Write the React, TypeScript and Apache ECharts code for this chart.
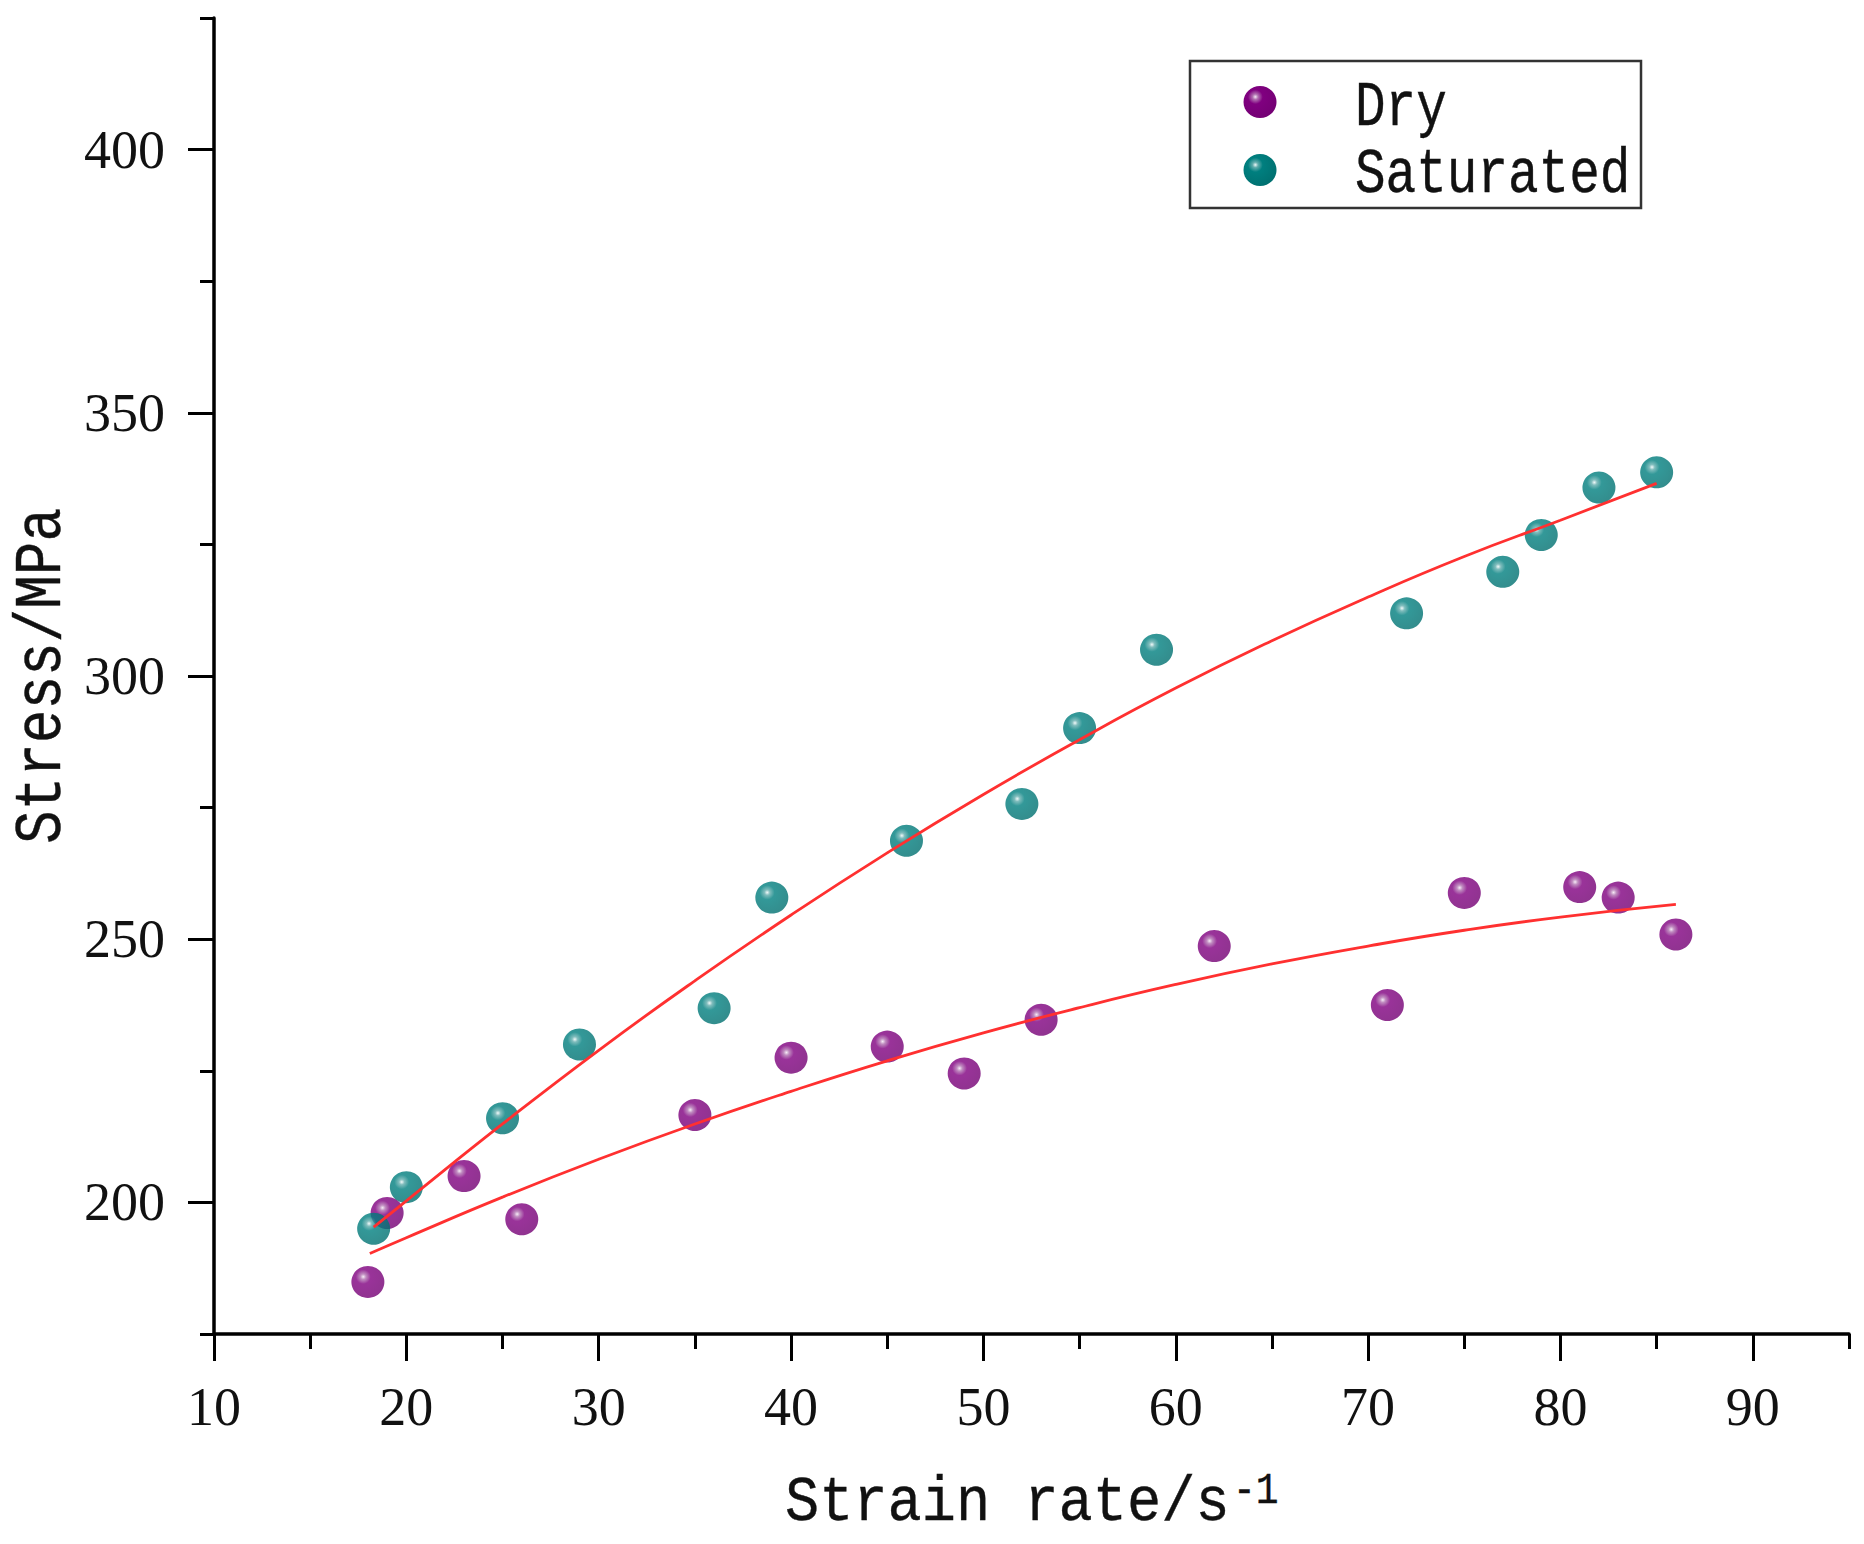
import React, { useEffect, useRef } from "react";
import * as echarts from "echarts";

// Measured points (strain rate in s^-1, stress in MPa)
const dryStrainRate = [18, 19, 23, 26, 35, 40, 45, 49, 53, 62, 71, 75, 81, 83, 86];
const dryStress = [184.9, 198.0, 205.0, 196.8, 216.6, 227.5, 229.6, 224.5, 234.7, 248.7, 237.5, 258.8, 259.9, 257.9, 250.9];

const satStrainRate = [18.3, 20, 25, 29, 36, 39, 46, 52, 55, 59, 72, 77, 79, 82, 85];
const satStress = [195.0, 202.9, 216.0, 230.0, 236.9, 257.9, 268.7, 275.7, 290.1, 305.0, 311.9, 319.8, 326.8, 335.8, 338.7];

// Fitted curves
const dryFitX = [18.1, 20, 25, 30, 35, 40, 45, 50, 55, 60, 65, 70, 75, 80, 86];
const dryFitY = [190.3, 193.3, 201.0, 208.2, 214.9, 221.1, 226.9, 232.2, 237.0, 241.4, 245.3, 248.7, 251.7, 254.2, 256.6];

const satFitX = [18.3, 20, 25, 30, 35, 40, 45, 50, 55, 60, 65, 70, 75, 80, 85];
const satFitY = [195.3, 200.3, 214.9, 228.9, 242.1, 254.6, 266.4, 277.5, 287.9, 297.7, 306.7, 315.0, 322.7, 329.6, 336.6];

// Axis ticks
const xMajorTicks = [10, 20, 30, 40, 50, 60, 70, 80, 90];
const xMinorTicks = [15, 25, 35, 45, 55, 65, 75, 85, 95];
const yMajorTicks = [200, 250, 300, 350, 400];
const yMinorTicks = [175, 225, 275, 325, 375, 425];

// Texts
const seriesNames = ["Dry", "Saturated"];
const xTitle = "Strain rate/s";
const xTitleSup = "-1";
const yTitle = "Stress/MPa";

const pairs = (xs: number[], ys: number[]) => xs.map((x, i) => [x, ys[i]]);

const sphereStops = (light: string, mid: string, base: string, dark: string) => [
  { offset: 0, color: light },
  { offset: 0.12, color: mid },
  { offset: 0.32, color: base },
  { offset: 1, color: dark },
];

const purpleStops = sphereStops("#f4e6f4", "#b070b0", "#800080", "#740074");
const tealStops = sphereStops("#eef8f8", "#60acac", "#007f7f", "#007070");

const sphere = (stops: any[]) => ({ type: "radial", x: 0.36, y: 0.34, r: 0.7, colorStops: stops });

const labelFont = "'Liberation Serif', 'Times New Roman', serif";
const monoFont = "'Liberation Mono', 'Courier New', monospace";

export default function App() {
  const ref = useRef<HTMLDivElement>(null);

  useEffect(() => {
    if (!ref.current) return;
    const chart = echarts.init(ref.current, undefined, { renderer: "svg" });

    const axisCommon = {
      type: "value",
      axisLine: { show: true, lineStyle: { color: "#000", width: 3.5 } },
      splitLine: { show: false },
    };

    const textStyle = (text: string, size: number, align: string) => ({
      text,
      x: 0,
      y: 0,
      fontFamily: monoFont,
      fontSize: size,
      lineHeight: Math.round(size * 0.8),
      fill: "#111",
      stroke: "#111",
      lineWidth: 0.35,
      align,
      verticalAlign: "middle",
      textAlign: align,
      textVerticalAlign: "middle",
    });

    const legendMarker = (cy: number, stops: any[]) => ({
      type: "ellipse",
      shape: { cx: 1260, cy, rx: 16.5, ry: 16 },
      style: { fill: new echarts.graphic.RadialGradient(0.36, 0.34, 0.7, stops) },
      z: 101,
    });

    chart.setOption({
      animation: false,
      backgroundColor: "#ffffff",
      grid: { left: 214, top: 18, right: 15, bottom: 210, containLabel: false },
      graphic: [
        {
          type: "rect",
          shape: { x: 1190, y: 61, width: 451, height: 147 },
          style: { fill: "#fff", stroke: "#333", lineWidth: 2.5 },
          z: 100,
        },
        legendMarker(102, purpleStops),
        legendMarker(170, tealStops),
        {
          type: "text",
          x: 1355,
          y: 108,
          scaleY: 1.25,
          style: textStyle(seriesNames[0], 51, "left"),
          z: 101,
        },
        {
          type: "text",
          x: 1355,
          y: 175,
          scaleY: 1.25,
          style: textStyle(seriesNames[1], 51, "left"),
          z: 101,
        },
        {
          type: "text",
          x: 785,
          y: 1503,
          scaleY: 1.1,
          style: textStyle(xTitle, 57, "left"),
        },
        {
          type: "text",
          x: 1233,
          y: 1491,
          scaleY: 1.15,
          style: textStyle(xTitleSup, 38, "left"),
        },
        {
          type: "text",
          x: 43,
          y: 676,
          rotation: Math.PI / 2,
          scaleY: 1.2,
          style: textStyle(yTitle, 56, "center"),
        },
      ],
      xAxis: [
        {
          ...axisCommon,
          min: 10,
          max: 95,
          interval: 10,
          axisTick: {
            show: true,
            inside: false,
            length: 27,
            customValues: xMajorTicks,
            lineStyle: { color: "#000", width: 3 },
          },
          axisLabel: {
            customValues: xMajorTicks,
            margin: 46,
            fontFamily: labelFont,
            fontSize: 54,
            color: "#111",
          },
        },
        {
          ...axisCommon,
          min: 10,
          max: 95,
          position: "bottom",
          offset: 0,
          axisLine: { show: false },
          axisLabel: { show: false },
          axisTick: {
            show: true,
            length: 15,
            customValues: xMinorTicks,
            lineStyle: { color: "#000", width: 3 },
          },
        },
      ],
      yAxis: [
        {
          ...axisCommon,
          min: 175,
          max: 425,
          interval: 25,
          axisTick: {
            show: true,
            length: 26,
            customValues: yMajorTicks,
            lineStyle: { color: "#000", width: 3 },
          },
          axisLabel: {
            customValues: yMajorTicks,
            margin: 49,
            fontFamily: labelFont,
            fontSize: 54,
            color: "#111",
          },
        },
        {
          ...axisCommon,
          min: 175,
          max: 425,
          position: "left",
          offset: 0,
          axisLine: { show: false },
          axisLabel: { show: false },
          axisTick: {
            show: true,
            length: 14,
            customValues: yMinorTicks,
            lineStyle: { color: "#000", width: 3 },
          },
        },
      ],
      series: [
        {
          name: seriesNames[0],
          type: "scatter",
          data: pairs(dryStrainRate, dryStress),
          symbol: "circle",
          symbolSize: [33, 32],
          itemStyle: { color: sphere(purpleStops) },
          z: 2,
        },
        {
          name: seriesNames[1],
          type: "scatter",
          data: pairs(satStrainRate, satStress),
          symbol: "circle",
          symbolSize: [33, 32],
          itemStyle: { color: sphere(tealStops) },
          z: 2,
        },
        {
          name: "Dry fit",
          type: "line",
          data: pairs(dryFitX, dryFitY),
          smooth: true,
          showSymbol: false,
          lineStyle: { color: "#ff3030", width: 2.8 },
          z: 5,
        },
        {
          name: "Saturated fit",
          type: "line",
          data: pairs(satFitX, satFitY),
          smooth: true,
          showSymbol: false,
          lineStyle: { color: "#ff3030", width: 2.8 },
          z: 5,
        },
      ],
    });

    return () => chart.dispose();
  }, []);

  return (
    <div
      ref={ref}
      style={{ position: "absolute", left: 0, top: 0, width: 1864, height: 1544, background: "#fff" }}
    />
  );
}
